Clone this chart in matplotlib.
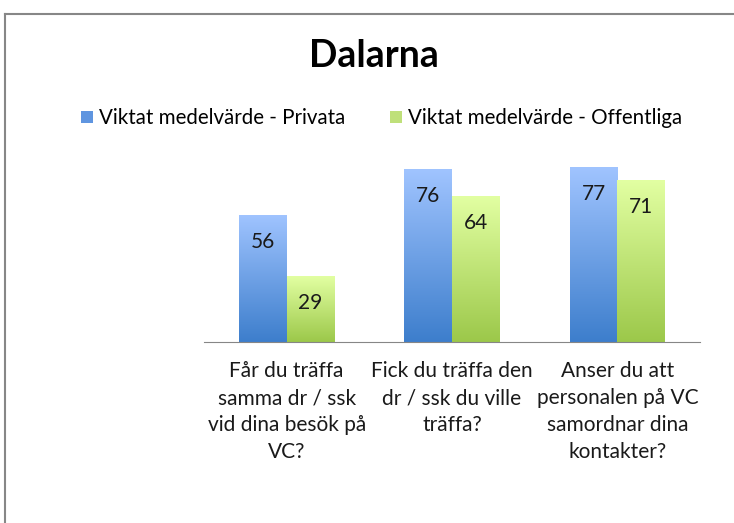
import numpy as np
import matplotlib
matplotlib.use('Agg')
from matplotlib import pyplot as plt
from matplotlib.patches import Patch
from matplotlib.lines import Line2D
from matplotlib.colors import LinearSegmentedColormap

plt.rcParams['font.family'] = ['Lato', 'DejaVu Sans']

title = 'Dalarna'
categories = ['Får du träffa\nsamma dr / ssk\nvid dina besök på\nVC?',
              'Fick du träffa den\ndr / ssk du ville\nträffa?',
              'Anser du att\npersonalen på VC\nsamordnar dina\nkontakter?']
series_names = ['Viktat medelvärde - Privata', 'Viktat medelvärde - Offentliga']
privata = [56, 76, 77]
offentliga = [29, 64, 71]

# gradient colours (bottom, top)
blue = ('#3d7ecc', '#a0c4ff')
green = ('#9cc84a', '#e2ffa2')

fig = plt.figure(figsize=(7.34, 5.23), dpi=100)
ax = fig.add_axes([204/734, 1 - 341.7/523, 496/734, 181.7/523])

x = np.arange(len(categories))
w = 0.288

def gradient_bars(xpos, vals, cols):
    cmap = LinearSegmentedColormap.from_list('g', list(cols))
    bars = ax.bar(xpos, vals, w, color='none', edgecolor='none')
    grad = np.linspace(0, 1, 256).reshape(-1, 1)
    for b in bars:
        x0, y0 = b.get_x(), b.get_y()
        im = ax.imshow(grad, cmap=cmap, origin='lower', aspect='auto',
                       extent=[x0, x0 + b.get_width(), y0, y0 + b.get_height()],
                       zorder=2)
        im.set_clip_path(b)
    return bars

b1 = gradient_bars(x - w/2, privata, blue)
b2 = gradient_bars(x + w/2, offentliga, green)

for bars, vals in ((b1, privata), (b2, offentliga)):
    for b, v in zip(bars, vals):
        ax.annotate(str(v), (b.get_x() + b.get_width()/2, v), xytext=(0, -27),
                    textcoords='offset pixels', ha='center', va='center',
                    fontsize=15, color='#1a1a1a', zorder=3)

ax.set_xlim(-0.5, len(categories) - 0.5)
ax.set_ylim(0, 80)
ax.set_yticks([])
ax.set_xticks(x)
ax.set_xticklabels(categories, fontsize=15, linespacing=1.43, color='#1a1a1a')
ax.tick_params(axis='x', length=0, pad=14)
for s in ('top', 'right', 'left'):
    ax.spines[s].set_visible(False)
ax.spines['bottom'].set_color('#868686')
ax.set_facecolor('none')

fig.text(0.509, 1 - 56/523, title, ha='center', va='center',
         fontsize=27, fontweight='bold', color='#000000')

handles = [Patch(facecolor='#5f95e0', edgecolor='none'),
           Patch(facecolor='#bfe07a', edgecolor='none')]
fig.legend(handles, series_names, loc='center', bbox_to_anchor=(0.52, 1 - 118/523),
           ncol=2, frameon=False, fontsize=14.8, handlelength=0.55, handleheight=0.55,
           handletextpad=0.3, columnspacing=2.2)

# chart border (only top and left edges fall inside the picture)
top = 1 - 14/523
fig.add_artist(Line2D([5/734, 1.05], [top, top], transform=fig.transFigure,
                      color='#878787', linewidth=1.5))
fig.add_artist(Line2D([5/734, 5/734], [-0.05, top], transform=fig.transFigure,
                      color='#878787', linewidth=1.5))

fig.savefig('out.png', dpi=100)
